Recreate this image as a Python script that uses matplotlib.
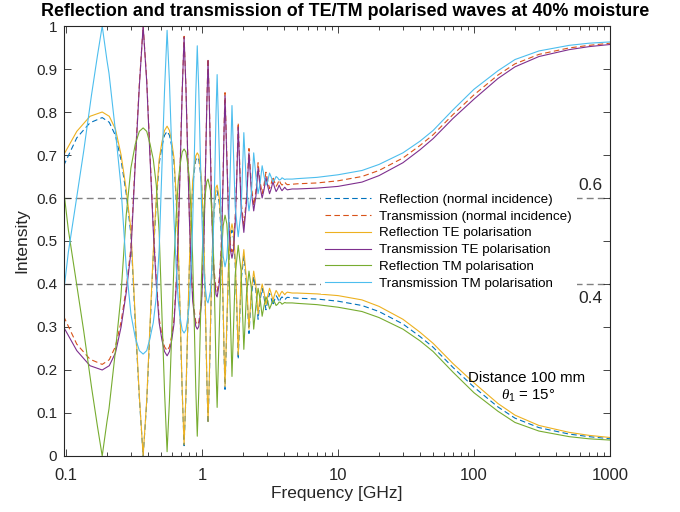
import matplotlib
matplotlib.use("Agg")
import matplotlib.pyplot as plt
from matplotlib.ticker import LogLocator, NullFormatter

plt.rcParams['font.family'] = ['Liberation Sans', 'DejaVu Sans']
plt.rcParams['mathtext.fontset'] = 'custom'
plt.rcParams['mathtext.it'] = 'Liberation Serif:italic'
plt.rcParams['mathtext.rm'] = 'Liberation Sans'

# Frequency samples [GHz] shared by the normal-incidence and TE curves
freq_te = [0.096, 0.12, 0.15, 0.1845,
           0.208, 0.231, 0.254, 0.277, 0.300, 0.323, 0.346, 0.369,
           0.392, 0.415, 0.438, 0.461, 0.484, 0.507, 0.530, 0.5535,
           0.576, 0.599, 0.622, 0.646, 0.669, 0.692, 0.715, 0.738,
           0.761, 0.784, 0.807, 0.830, 0.853, 0.876, 0.899, 0.9225,
           0.946, 0.969, 0.992, 1.015, 1.038, 1.061, 1.084, 1.107,
           1.13, 1.153, 1.176, 1.199, 1.222, 1.245, 1.268, 1.2915,
           1.338, 1.384, 1.43, 1.453, 1.476,
           1.522, 1.568, 1.614, 1.6605, 1.707, 1.753, 1.799, 1.845,
           1.937, 2.0295, 2.122, 2.214, 2.306, 2.3985, 2.491, 2.583, 2.675, 2.7675,
           2.86, 2.952, 3.044, 3.1365, 3.229, 3.321, 3.413, 3.5055, 3.598, 3.69,
           3.782, 3.8745, 3.967, 4.059, 4.151, 4.24,
           4.6, 5, 7, 10, 15, 20, 30, 40, 50, 70, 100, 150, 200, 300, 500, 700, 1000]

# Reflection, TE polarisation
refl_te = [0.70, 0.755, 0.79, 0.80,
           0.79, 0.76, 0.70, 0.62, 0.526, 0.32, 0.14, 0.0,
           0.13, 0.31, 0.475, 0.60, 0.69, 0.73, 0.757, 0.767,
           0.757, 0.73, 0.693, 0.604, 0.485, 0.32, 0.152, 0.026,
           0.141, 0.298, 0.447, 0.556, 0.637, 0.671, 0.698, 0.705,
           0.699, 0.674, 0.643, 0.568, 0.468, 0.33, 0.186, 0.08,
           0.174, 0.30, 0.42, 0.51, 0.575, 0.60, 0.625, 0.63,
           0.60, 0.53, 0.35, 0.24, 0.162,
           0.31, 0.45, 0.52, 0.54, 0.52, 0.46, 0.36, 0.235,
           0.42, 0.48, 0.41, 0.295, 0.385, 0.43, 0.395, 0.33, 0.375, 0.40,
           0.38, 0.352, 0.373, 0.39, 0.378, 0.362, 0.375, 0.385, 0.379, 0.370,
           0.378, 0.383, 0.379, 0.375, 0.379, 0.381,
           0.379, 0.379, 0.377, 0.373, 0.363, 0.348, 0.318, 0.288, 0.262, 0.215,
           0.17, 0.122, 0.095, 0.071, 0.055, 0.048, 0.043]

# Reflection, normal incidence
refl_normal = [0.675, 0.74, 0.775, 0.787,
               0.776, 0.745, 0.688, 0.61, 0.515, 0.31, 0.135, 0.0,
               0.125, 0.30, 0.465, 0.59, 0.68, 0.72, 0.746, 0.755,
               0.746, 0.72, 0.683, 0.595, 0.475, 0.31, 0.147, 0.024,
               0.137, 0.29, 0.437, 0.546, 0.627, 0.661, 0.688, 0.695,
               0.689, 0.664, 0.633, 0.558, 0.458, 0.322, 0.18, 0.076,
               0.168, 0.29, 0.41, 0.50, 0.563, 0.588, 0.612, 0.617,
               0.588, 0.518, 0.34, 0.232, 0.155,
               0.30, 0.437, 0.506, 0.525, 0.506, 0.447, 0.349, 0.225,
               0.407, 0.465, 0.398, 0.285, 0.372, 0.418, 0.383, 0.318, 0.363, 0.39,
               0.368, 0.34, 0.361, 0.378, 0.366, 0.35, 0.363, 0.373, 0.367, 0.358,
               0.366, 0.37, 0.367, 0.363, 0.367, 0.369,
               0.368, 0.367, 0.365, 0.360, 0.350, 0.336, 0.307, 0.278, 0.253, 0.206,
               0.16, 0.114, 0.088, 0.066, 0.051, 0.045, 0.040]

# Frequency samples [GHz] for the TM curve
freq_tm = [0.096, 0.104, 0.117, 0.135, 0.154, 0.17, 0.1845,
           0.2, 0.207, 0.23, 0.253, 0.277, 0.3, 0.323, 0.346, 0.369,
           0.392, 0.415, 0.438, 0.461, 0.484, 0.507, 0.53, 0.5535,
           0.576, 0.599, 0.622, 0.646, 0.669, 0.692, 0.715, 0.738,
           0.761, 0.784, 0.807, 0.83, 0.853, 0.876, 0.899, 0.9225,
           0.946, 0.969, 0.992, 1.015, 1.038, 1.061, 1.084, 1.107,
           1.153, 1.199, 1.222, 1.245, 1.268, 1.2915,
           1.338, 1.384, 1.43, 1.476, 1.522, 1.568, 1.614, 1.6605,
           1.753, 1.845, 1.937, 2.0295, 2.122, 2.214, 2.306, 2.3985, 2.491, 2.583,
           2.675, 2.7675, 2.86, 2.952, 3.044, 3.1365, 3.229, 3.321, 3.413, 3.5055,
           3.598, 3.69, 3.782, 3.8745, 3.967, 4.059, 4.151,
           4.6, 5, 7, 10, 15, 20, 30, 40, 50, 70, 100, 150, 200, 300, 500, 700, 1000]

# Reflection, TM polarisation
refl_tm = [0.62, 0.526, 0.42, 0.29, 0.16, 0.07, 0.0,
           0.08, 0.11, 0.24, 0.37, 0.56, 0.67, 0.725, 0.755, 0.763,
           0.755, 0.725, 0.69, 0.63, 0.52, 0.33, 0.15, 0.01,
           0.13, 0.29, 0.45, 0.56, 0.64, 0.68, 0.707, 0.714,
           0.707, 0.68, 0.647, 0.567, 0.46, 0.313, 0.16, 0.046,
           0.148, 0.285, 0.42, 0.512, 0.58, 0.614, 0.638, 0.644,
           0.617, 0.527, 0.44, 0.325, 0.20, 0.113,
           0.29, 0.46, 0.535, 0.56, 0.54, 0.47, 0.33, 0.185,
           0.42, 0.49, 0.43, 0.248, 0.375, 0.43, 0.39, 0.295, 0.35, 0.39,
           0.365, 0.325, 0.35, 0.37, 0.36, 0.342, 0.352, 0.362, 0.358, 0.35,
           0.353, 0.358, 0.357, 0.353, 0.355, 0.357, 0.356,
           0.356, 0.355, 0.352, 0.346, 0.336, 0.322, 0.295, 0.268, 0.243, 0.195,
           0.147, 0.104, 0.078, 0.058, 0.045, 0.040, 0.037]

# Energy balance: what is not reflected is transmitted
trans_normal = [1 - r for r in refl_normal]
trans_te = [1 - r for r in refl_te]
trans_tm = [1 - r for r in refl_tm]

series = [
    (freq_te, refl_normal, 'Reflection (normal incidence)', '#0072BD', True),
    (freq_te, trans_normal, 'Transmission (normal incidence)', '#D95319', True),
    (freq_te, refl_te, 'Reflection TE polarisation', '#EDB120', False),
    (freq_te, trans_te, 'Transmission TE polarisation', '#7E2F8E', False),
    (freq_tm, refl_tm, 'Reflection TM polarisation', '#77AC30', False),
    (freq_tm, trans_tm, 'Transmission TM polarisation', '#4DBEEE', False),
]

fig = plt.figure(figsize=(6.8, 5.12), dpi=100)
ax = fig.add_axes([0.0941, 0.1094, 0.803, 0.8398])

for level in (0.6, 0.4):
    ax.axhline(level, color='#808080', lw=1.0, ls=(0, (5, 3)), zorder=1)

handles = []
for f, v, lab, col, dashed in series:
    h, = ax.plot(f, v, color=col, lw=0.8, ls=(0, (5, 3)) if dashed else '-',
                 label=lab, zorder=2)
    handles.append(h)

ax.set_xscale('log')
ax.set_xlim(0.0966, 1000)
ax.set_ylim(0, 1)
ax.set_xticks([0.1, 1, 10, 100, 1000])
ax.set_xticklabels(['0.1', '1', '10', '100', '1000'])
ax.xaxis.set_minor_locator(LogLocator(base=10, subs=range(2, 10), numticks=20))
ax.xaxis.set_minor_formatter(NullFormatter())
ax.set_yticks([0, 0.1, 0.2, 0.3, 0.4, 0.5, 0.6, 0.7, 0.8, 0.9, 1])
ax.set_yticklabels(['0', '0.1', '0.2', '0.3', '0.4', '0.5', '0.6', '0.7', '0.8', '0.9', '1'])

dark = '#262626'
for s in ax.spines.values():
    s.set_color(dark)
    s.set_linewidth(0.8)
ax.tick_params(which='both', direction='in', top=True, right=True, colors=dark, width=0.6)
ax.tick_params(which='major', length=5)
ax.tick_params(which='minor', length=3)
ax.tick_params(axis='x', labelsize=12, pad=9)
ax.tick_params(axis='y', labelsize=11, pad=5)

ax.set_xlabel('Frequency [GHz]', fontsize=12.5, color=dark, labelpad=2)
ax.set_ylabel('Intensity', fontsize=12.5, color=dark, labelpad=5)
ax.set_title('Reflection and transmission of TE/TM polarised waves at 40% moisture',
             fontsize=12.9, fontweight='bold', pad=7, x=0.515)

leg = ax.legend(handles=handles, loc='upper left', bbox_to_anchor=(0.47, 0.621),
                borderaxespad=0, fontsize=9.6, frameon=True, framealpha=1,
                facecolor='white', edgecolor='none', fancybox=False,
                handlelength=3.45, handletextpad=0.6, labelspacing=0.33,
                borderpad=0.35)
leg.set_zorder(5)

ax.text(0.965, 0.630, '0.6', transform=ax.transAxes, fontsize=12.5, color=dark,
        ha='center', va='center')
ax.text(0.965, 0.367, '0.4', transform=ax.transAxes, fontsize=12.5, color=dark,
        ha='center', va='center')
ax.text(0.848, 0.182, 'Distance 100 mm', transform=ax.transAxes, fontsize=10.8,
        color='black', ha='center', va='center', zorder=6)
ax.text(0.85, 0.14, r'$\theta_1$ = 15°', transform=ax.transAxes, fontsize=10.8,
        color='black', ha='center', va='center', zorder=6)

fig.savefig('out.png', dpi=100)
